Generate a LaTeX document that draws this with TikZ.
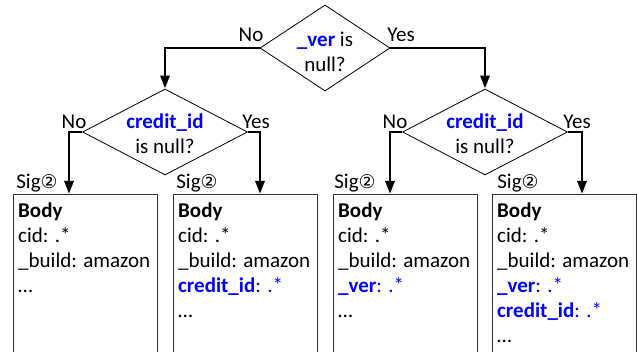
\documentclass[tikz,border=0pt]{standalone}
\usepackage{fontspec}
\setmainfont{Carlito}
\newfontfamily\circfont{DejaVu Sans}
\usetikzlibrary{arrows.meta,shapes.geometric}
\definecolor{keyblue}{RGB}{0,0,255}
\newcommand{\keyw}[1]{\textcolor{keyblue}{\bfseries #1}}
\newcommand{\sigtwo}{Sig{\circfont\scalebox{0.9}{②}}}
\begin{document}
\begin{tikzpicture}[x=1pt,y=-1pt,
  every node/.style={font=\fontsize{21}{25}\selectfont, inner sep=0pt},
  decision/.style={draw, line width=0.8pt, diamond, inner sep=0pt},
  cond/.style={align=center, font=\fontsize{21}{25}\selectfont},
  answer/.style={anchor=base},
  flow/.style={line width=2.9pt, -{Triangle[length=13pt,width=9pt]}},
  bodybox/.style={draw=black!80, line width=0.9pt, anchor=north west,
    minimum width=144pt, minimum height=175pt},
  bodytext/.style={anchor=north west, align=left},
  siglabel/.style={anchor=base}]
  \useasboundingbox (0,0) rectangle (637,352);
  \clip (0,0) rectangle (637,352);

  % decisions
  \node[decision, minimum width=130pt, minimum height=86pt,
    label={[cond, yshift=-4pt]center:{\keyw{\_ver} is\\null?}}] (d0) at (325,48) {};
  \node[decision, minimum width=165pt, minimum height=86pt,
    label={[cond, yshift=-2pt]center:{\keyw{credit\_id}\\is null?}}] (d1) at (165,132) {};
  \node[decision, minimum width=165pt, minimum height=86pt,
    label={[cond, yshift=-2pt]center:{\keyw{credit\_id}\\is null?}}] (d2) at (485,132) {};

  % signature boxes
  \node[bodybox] (b1) at (13,194) {};
  \node[bodybox] (b2) at (173,194) {};
  \node[bodybox] (b3) at (333,194) {};
  \node[bodybox] (b4) at (492,194) {};

  \node[bodytext] (t1) at (18,203) {\textbf{Body}\\cid: .*\\\_build: amazon\\…};
  \node[bodytext] (t2) at (178,203) {\textbf{Body}\\cid: .*\\\_build: amazon\\\keyw{credit\_id}\textcolor{keyblue}{: .*}\\…};
  \node[bodytext] (t3) at (338,203) {\textbf{Body}\\cid: .*\\\_build: amazon\\\keyw{\_ver}\textcolor{keyblue}{: .*}\\…};
  \node[bodytext] (t4) at (497,203) {\textbf{Body}\\cid: .*\\\_build: amazon\\\keyw{\_ver}\textcolor{keyblue}{: .*}\\\keyw{credit\_id}\textcolor{keyblue}{: .*}\\…};

  % arrow ends on the box tops
  \coordinate (e1) at (69,194);
  \coordinate (e2) at (260,194);
  \coordinate (e3) at (390,194);
  \coordinate (e4) at (582,194);

  % branches
  \draw[flow] (d0.west) -| (d1.north);
  \draw[flow] (d0.east) -| (d2.north);
  \draw[flow] (d1.west) -| (e1);
  \draw[flow] (d1.east) -| (e2);
  \draw[flow] (d2.west) -| (e3);
  \draw[flow] (d2.east) -| (e4);

  % branch labels
  \node[answer] (n0) at (251,42) {No};
  \node[answer] (y0) at (401,42) {Yes};
  \node[answer] (n1) at (74,129) {No};
  \node[answer] (y1) at (256,129) {Yes};
  \node[answer] (n2) at (395,129) {No};
  \node[answer] (y2) at (577,129) {Yes};

  % signature labels
  \node[siglabel] (s1) at (37,189) {\sigtwo};
  \node[siglabel] (s2) at (197,189) {\sigtwo};
  \node[siglabel] (s3) at (355,189) {\sigtwo};
  \node[siglabel] (s4) at (518,189) {\sigtwo};
\end{tikzpicture}
\end{document}
